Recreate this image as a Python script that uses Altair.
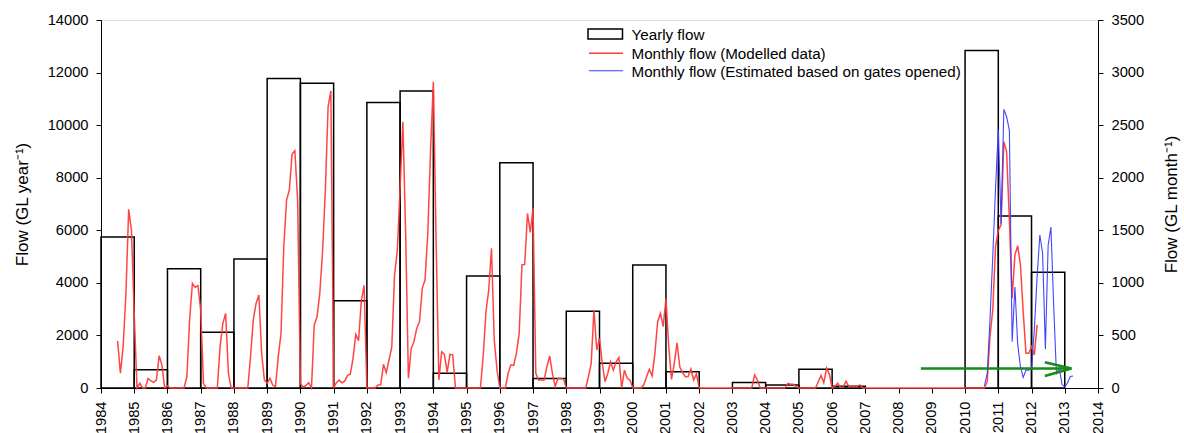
import altair as alt
import pandas as pd

# ---------------- data ----------------
YEARS = list(range(1984, 2013))
YEARLY_FLOW = [5740, 690, 4540, 2120, 4910, 11770, 11590, 3320, 10860, 11300,
               560, 4260, 8570, 360, 2920, 940, 4680, 620, 0, 210,
               110, 710, 70, 0, 0, 0, 12840, 6540, 4400]

RED_START_YEAR, RED_START_MONTH = 1984, 6   # July 1984 (0-based month)
RED_MONTHLY = [
    447, 140, 393, 900, 1700, 1500,                                 # 1984 Jul-Dec
    700, 0, 45, 0, 0, 90, 67, 54, 76, 307, 218, 0,                  # 1985
    19, 0, 0, 0, 0, 0, 0, 107, 647, 995, 957, 975,                  # 1986
    742, 44, 0, 0, 0, 0, 0, 393, 615, 710, 140, 0,                  # 1987
    0, 0, 0, 0, 0, 0, 300, 653, 805, 884, 330, 76,                  # 1988
    44, 92, 28, 13, 298, 520, 1344, 1787, 1883, 2225, 2257, 1787,   # 1989
    40, 10, 25, 50, 0, 600, 675, 900, 1300, 1875, 2675, 2825,       # 1990
    0, 50, 75, 50, 65, 120, 130, 280, 510, 450, 830, 975,           # 1991
    0, 0, 0, 0, 28, 30, 225, 146, 266, 393, 1075, 1310,             # 1992
    1900, 2533, 1470, 92, 377, 440, 567, 630, 948, 1027, 1470, 2263,  # 1993
    2913, 1400, 76, 345, 320, 150, 320, 315, 0, 0, 0, 0,            # 1994
    0, 0, 0, 0, 0, 0, 300, 725, 932, 1328, 457, 171,                # 1995
    0, 0, 0, 140, 220, 215, 330, 520, 1170, 1175, 1660, 1480,       # 1996
    1710, 140, 76, 76, 76, 200, 305, 140, 15, 90, 90, 85,           # 1997
    0, 0, 0, 0, 0, 0, 0, 0, 107, 235, 742, 361,                     # 1998
    472, 235, 60, 140, 250, 170, 250, 290, 0, 170, 92, 76,          # 1999
    0, 0, 0, 0, 30, 107, 178, 114, 330, 630, 710, 583,              # 2000
    852, 393, 82, 235, 430, 200, 146, 107, 110, 180, 76, 133,       # 2001
    0, 0, 0, 0, 0, 0, 0, 0, 0, 0, 0, 0,                             # 2002
    0, 0, 0, 0, 0, 0, 0, 0, 124, 76, 0, 0,                          # 2003
    0, 0, 0, 0, 0, 0, 0, 0, 44, 35, 35, 13,                         # 2004
    0, 0, 0, 0, 0, 0, 0, 60, 120, 50, 190, 130,                     # 2005
    0, 15, 45, 5, 10, 65, 15, 15, 15, 15, 30, 0,                    # 2006
    0, 0, 0, 0, 0, 0, 0, 0, 0, 0, 0, 0,                             # 2007
    0, 0, 0, 0, 0, 0, 0, 0, 0, 0, 0, 0,                             # 2008
    0, 0, 0, 0, 0, 0, 0, 0, 0, 0, 0, 0,                             # 2009
    0, 0, 0, 0, 0, 0, 0, 0, 60, 490, 742, 1344,                     # 2010
    1500, 1550, 2343, 2248, 1600, 853, 1265, 1354, 1170, 720, 330, 330,  # 2011
    393, 314, 600,                                                  # 2012 Jan-Mar
]

BLUE_START_YEAR, BLUE_START_MONTH = 2010, 7  # August 2010
BLUE_MONTHLY = [
    20, 140, 650, 1250, 1900,                                       # 2010 Aug-Dec
    2460, 1560, 2650, 2580, 2450, 440, 960, 420, 200, 100, 170, 170,  # 2011
    190, 550, 1050, 1455, 1280, 370, 1360, 1530, 780, 130, 190, 35,   # 2012
    10, 50, 110, 114,                                               # 2013 Jan-Apr
]

# green annotation arrow (shaft + two head strokes), in data units (right axis)
ARROW_X0 = [2008.67, 2012.4, 2012.4]
ARROW_Y0 = [185, 244, 114]
ARROW_X1 = [2013.2, 2013.2, 2013.2]
ARROW_Y1 = [185, 185, 185]

LEGEND_LABELS = ["Yearly flow",
                 "Monthly flow (Modelled data)",
                 "Monthly flow (Estimated based on gates opened)"]

# ---------------- tables ----------------
bars_df = pd.DataFrame({"start": YEARS,
                        "end": [y + 1 for y in YEARS],
                        "flow": YEARLY_FLOW})
bars_df = bars_df[bars_df["flow"] > 0]

red_df = pd.DataFrame({
    "t": [RED_START_YEAR + (RED_START_MONTH + i) / 12 for i in range(len(RED_MONTHLY))],
    "v": RED_MONTHLY})
blue_df = pd.DataFrame({
    "t": [BLUE_START_YEAR + (BLUE_START_MONTH + i) / 12 for i in range(len(BLUE_MONTHLY))],
    "v": BLUE_MONTHLY})
arrow_df = pd.DataFrame({"x0": ARROW_X0, "y0": ARROW_Y0, "x1": ARROW_X1, "y1": ARROW_Y1})

FONT = "Liberation Sans"
XDOM = [1984, 2014]
xscale = alt.Scale(domain=XDOM, nice=False, zero=False)
rscale = alt.Scale(domain=[0, 3500], nice=False)

x_axis = alt.Axis(values=list(range(1984, 2015)), format="d", labelAngle=270,
                  title=None, grid=False, tickSize=5, labelPadding=8,
                  labelFontSize=14.7, labelFont=FONT, labelColor="black",
                  domainColor="black", tickColor="black", labelOverlap=False)

left_axis = alt.Axis(values=list(range(0, 14001, 2000)), format="d",
                     title="Flow (GL year⁻¹)",
                     grid=False, tickSize=5, labelPadding=8, labelFontSize=14.7,
                     labelFont=FONT, labelColor="black", domainColor="black",
                     tickColor="black", titleFont=FONT, titleFontSize=17,
                     titleFontWeight="normal", titleColor="black",
                     titleAngle=270, titleX=-79, titleY=184,
                     titleAlign="center", titleBaseline="middle")

right_axis = alt.Axis(orient="right", values=list(range(0, 3501, 500)), format="d",
                      title="Flow (GL month⁻¹)", grid=False, tickSize=5,
                      labelPadding=8, labelFontSize=14.7, labelFont=FONT,
                      labelColor="black", domainColor="black", tickColor="black",
                      titleFont=FONT, titleFontSize=17, titleFontWeight="normal",
                      titleColor="black", titleAngle=270, titleX=73, titleY=184,
                      titleAlign="center", titleBaseline="middle")

bars = alt.Chart(bars_df).mark_rect(fill="white", fillOpacity=0, stroke="black",
                                     strokeWidth=1.5).encode(
    x=alt.X("start:Q", scale=xscale, axis=x_axis),
    x2="end:Q",
    y=alt.Y("flow:Q", scale=alt.Scale(domain=[0, 14000], nice=False), axis=left_axis),
    y2=alt.datum(0),
)

red = alt.Chart(red_df).mark_line(color="#ff3a3a", strokeWidth=1.5, opacity=0.95).encode(
    x=alt.X("t:Q", scale=xscale, axis=x_axis),
    y=alt.Y("v:Q", scale=rscale, axis=right_axis),
)

blue = alt.Chart(blue_df).mark_line(color="#3a3aff", strokeWidth=1.1, opacity=0.95).encode(
    x=alt.X("t:Q", scale=xscale, axis=x_axis),
    y=alt.Y("v:Q", scale=rscale, axis=right_axis),
)

arrow = alt.Chart(arrow_df).mark_rule(color="#178a17", strokeWidth=2.6).encode(
    x=alt.X("x0:Q", scale=xscale, axis=x_axis),
    x2="x1:Q",
    y=alt.Y("y0:Q", scale=rscale, axis=right_axis),
    y2="y1:Q",
)

monthly = alt.layer(red, blue, arrow)

# legend (drawn with marks, pixel positions inside the plot area)
LEG_FS = 15.2
one = pd.DataFrame({"k": [0]})
leg_box = alt.Chart(one).mark_rect(fill="white", fillOpacity=0, stroke="black",
                                   strokeWidth=1.5).encode(
    x=alt.value(487), x2=alt.value(521.5), y=alt.value(9), y2=alt.value(19))
leg_red = alt.Chart(one).mark_rule(color="#ff3a3a", strokeWidth=1.5).encode(
    x=alt.value(488), x2=alt.value(522), y=alt.value(33.3))
leg_blue = alt.Chart(one).mark_rule(color="#3a3aff", strokeWidth=1.1).encode(
    x=alt.value(488), x2=alt.value(522), y=alt.value(50.7))
leg_t1 = alt.Chart(one).mark_text(text=LEGEND_LABELS[0], align="left", baseline="middle",
                                  font=FONT, fontSize=LEG_FS, color="black").encode(
    x=alt.value(530.5), y=alt.value(14.5))
leg_t2 = alt.Chart(one).mark_text(text=LEGEND_LABELS[1], align="left", baseline="middle",
                                  font=FONT, fontSize=LEG_FS, color="black").encode(
    x=alt.value(530.5), y=alt.value(34))
leg_t3 = alt.Chart(one).mark_text(text=LEGEND_LABELS[2], align="left", baseline="middle",
                                  font=FONT, fontSize=LEG_FS, color="black").encode(
    x=alt.value(530.5), y=alt.value(51.5))
legend = alt.layer(leg_box, leg_red, leg_blue, leg_t1, leg_t2, leg_t3)

chart = alt.layer(bars, monthly, legend).resolve_scale(y="independent").properties(
    width=997, height=368,
    padding={"left": 101, "top": 20, "right": 86, "bottom": 45},
    autosize=alt.AutoSizeParams(type="none"),
).configure_view(stroke="black", strokeWidth=1).configure(background="white")

chart.save("out.html", embed_options={"renderer": "svg", "actions": False})
